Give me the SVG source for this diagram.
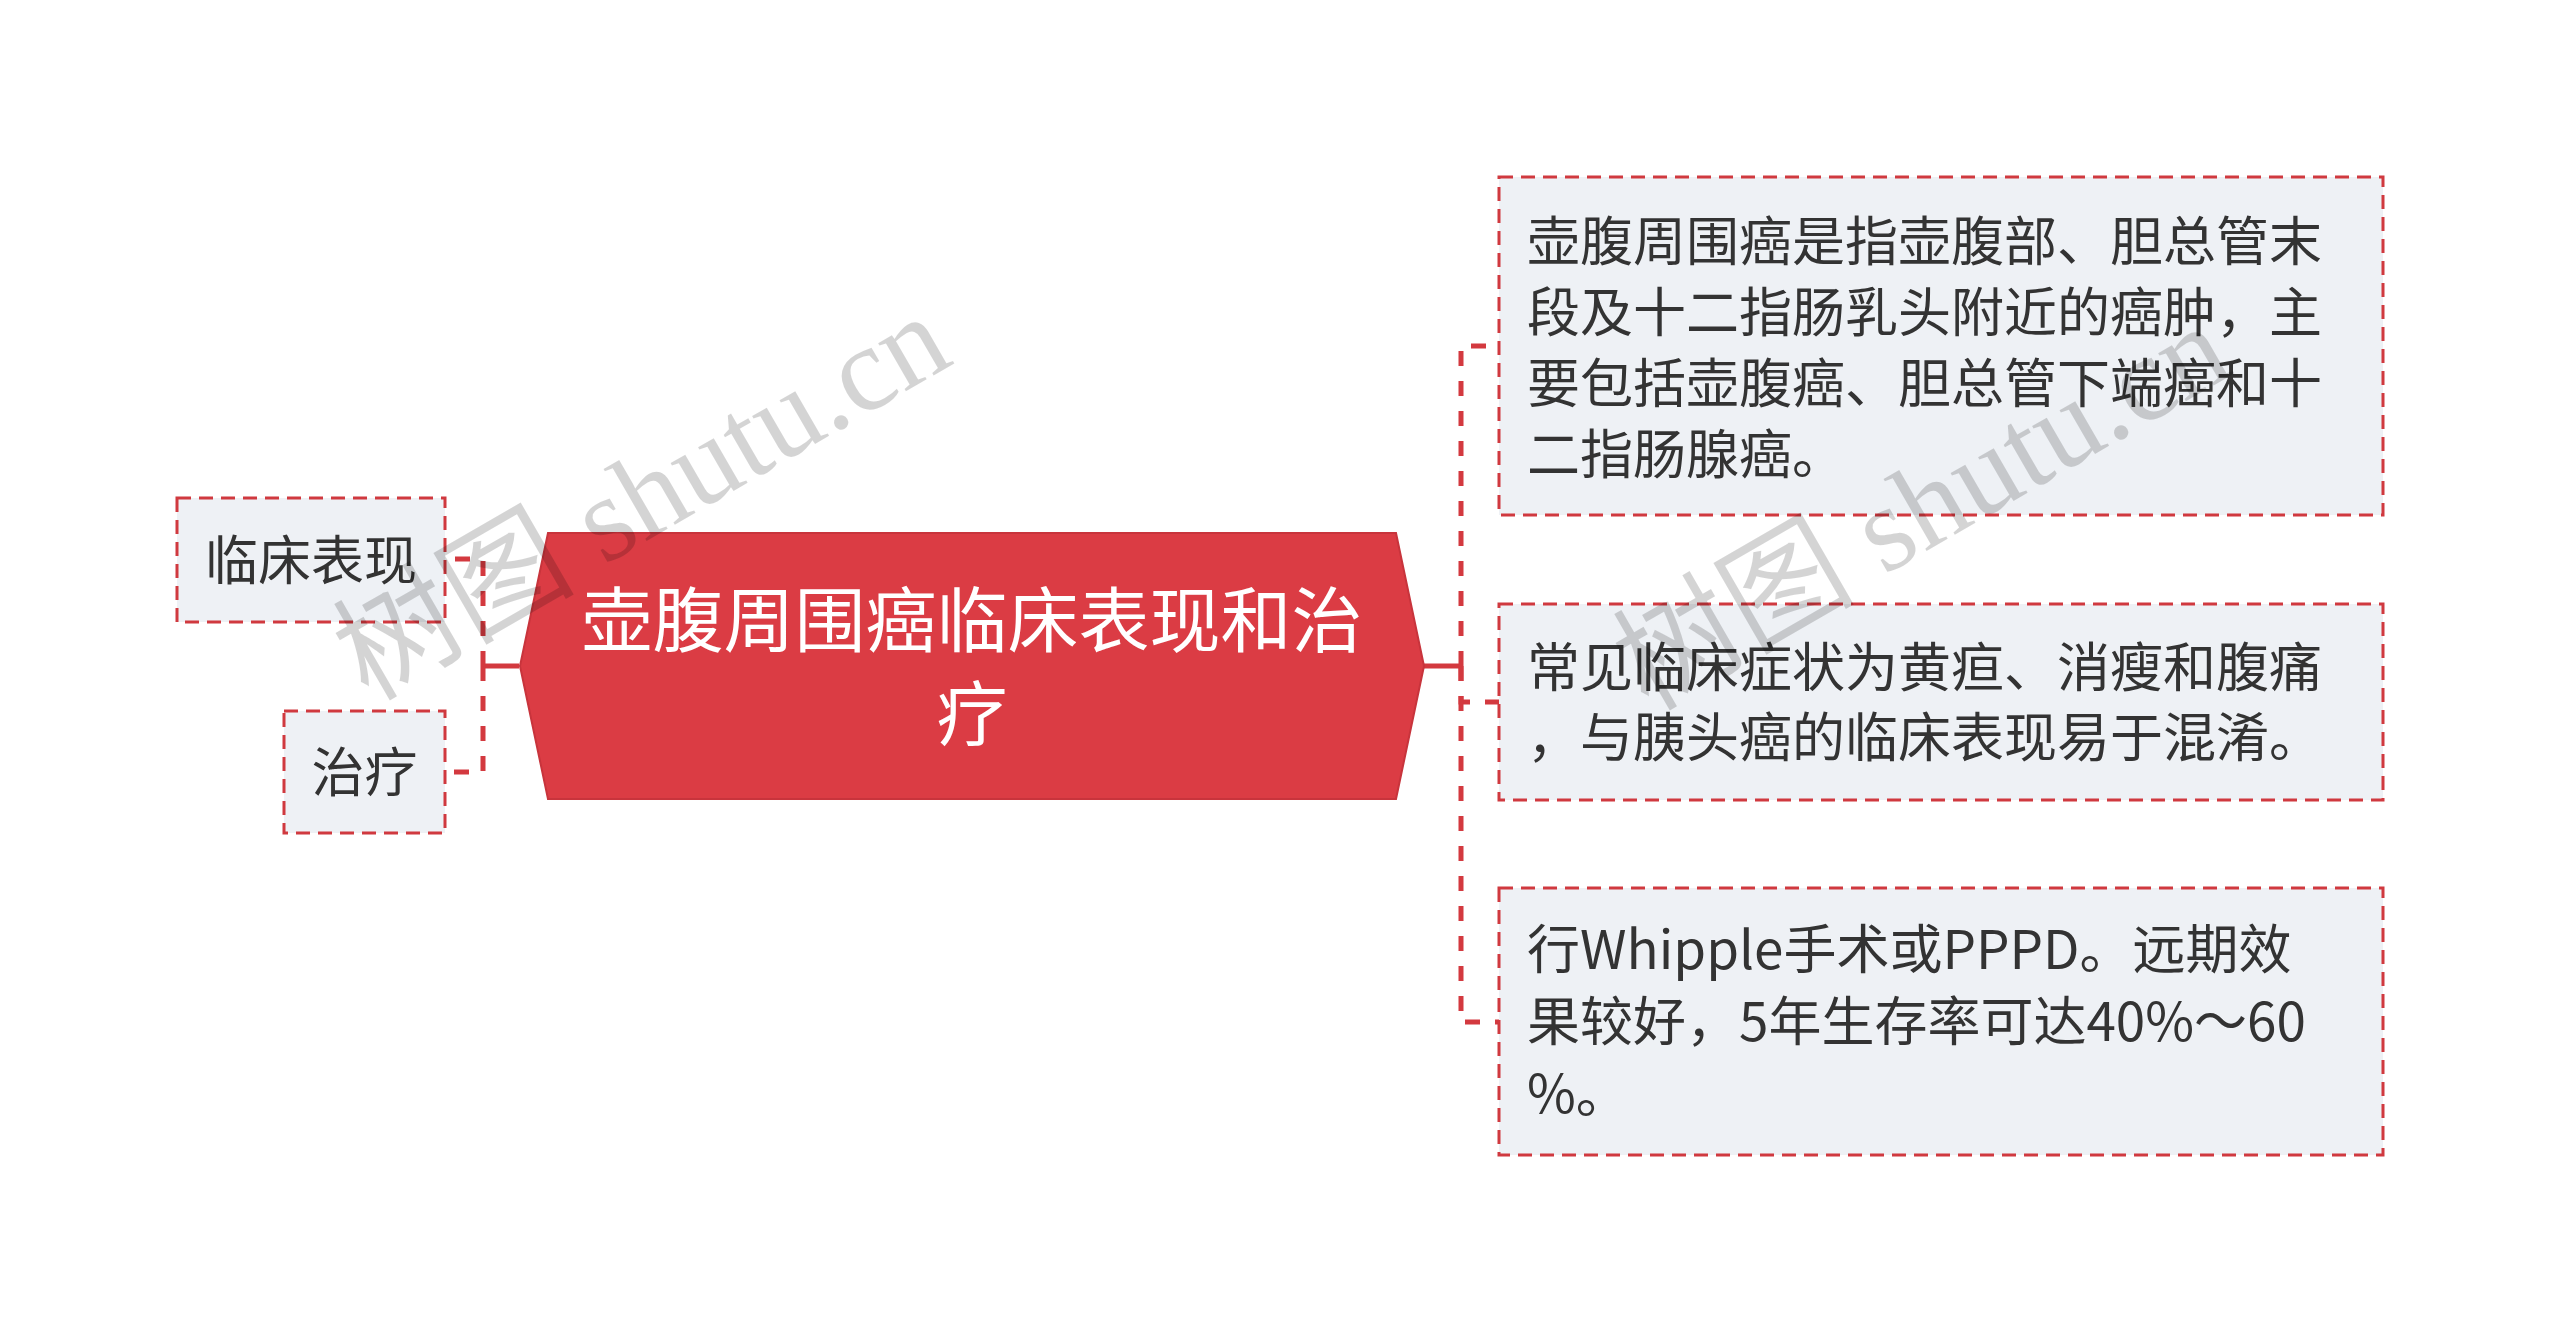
<svg xmlns="http://www.w3.org/2000/svg" width="2560" height="1333" viewBox="0 0 2560 1333">
<style>
.box{fill:#EEF1F5;stroke:#D0393F;stroke-width:3;stroke-dasharray:14 8}
.t{font-family:"Noto Sans CJK SC","Noto Sans",sans-serif;font-size:53px;fill:#333333}
.root{fill:#DB3C44;stroke:#C8343C;stroke-width:2}
.rt{font-family:"Noto Sans CJK SC","Noto Sans",sans-serif;font-size:71px;fill:#FFFFFF;text-anchor:middle}
.c{fill:none;stroke:#D3393F;stroke-width:5}
.d{stroke-dasharray:15 15}
.wm{font-family:"Liberation Serif","Noto Sans CJK SC",serif;font-size:121px;fill:#000000;fill-opacity:0.17}
</style>
<rect width="2560" height="1333" fill="#FFFFFF"/>
<g id="connectors">
<path class="c" d="M519,666 H483"/>
<path class="c d" d="M483,666 V559 H445"/>
<path class="c d" d="M483,666 V772 H445"/>
<path class="c" d="M1424,666 H1461"/>
<path class="c d" d="M1461,666 V346 H1499"/>
<path class="c d" d="M1461,666 V702 H1499"/>
<path class="c d" d="M1461,666 V1022 H1499"/>
</g>
<g id="root">
<polygon class="root" points="548,533 1396,533 1424,666 1396,799 548,799 520,666"/>
<text class="rt" x="972" y="646">壶腹周围癌临床表现和治</text>
<text class="rt" x="972" y="740">疗</text>
</g>
<g id="node-linchuang">
<rect class="box" x="177" y="498" width="268" height="124"/>
<text class="t" x="311" y="580" text-anchor="middle">临床表现</text>
</g>
<g id="node-zhiliao">
<rect class="box" x="284" y="711" width="161" height="122"/>
<text class="t" x="364.5" y="792" text-anchor="middle">治疗</text>
</g>
<g id="node-desc1">
<rect class="box" x="1499" y="177" width="884" height="338"/>
<text class="t" x="1527" y="261">壶腹周围癌是指壶腹部、胆总管末</text>
<text class="t" x="1527" y="332">段及十二指肠乳头附近的癌肿，主</text>
<text class="t" x="1527" y="403">要包括壶腹癌、胆总管下端癌和十</text>
<text class="t" x="1527" y="474">二指肠腺癌。</text>
</g>
<g id="node-desc2">
<rect class="box" x="1499" y="604" width="884" height="196"/>
<text class="t" x="1527" y="687">常见临床症状为黄疸、消瘦和腹痛</text>
<text class="t" x="1527" y="757">，与胰头癌的临床表现易于混淆。</text>
</g>
<g id="node-desc3">
<rect class="box" x="1499" y="888" width="884" height="267"/>
<text class="t" x="1527" y="969">行Whipple手术或PPPD。远期效</text>
<text class="t" x="1527" y="1041">果较好，5年生存率可达40%～60</text>
<text class="t" x="1527" y="1113">%。</text>
</g>
<g id="watermarks">
<text class="wm" transform="translate(368,702) rotate(-30)">树图 shutu.cn</text>
<text class="wm" transform="translate(1648,712) rotate(-30)">树图 shutu.cn</text>
</g>
</svg>
